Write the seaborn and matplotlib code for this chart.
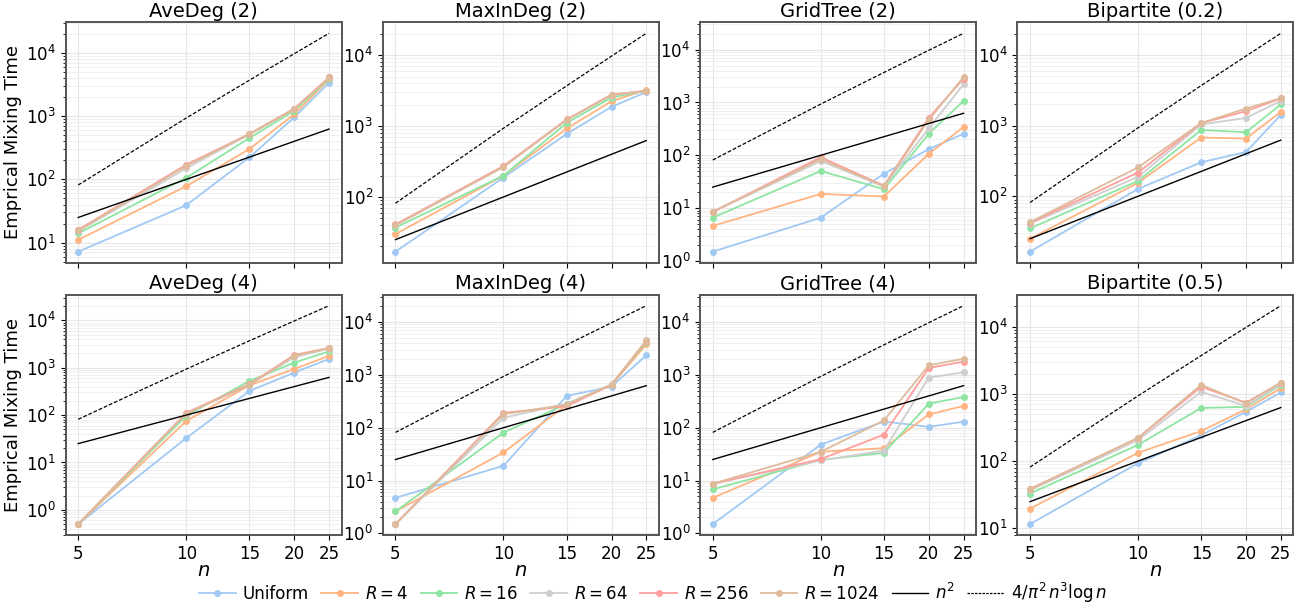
import numpy as np
import pandas as pd
import seaborn as sns
import matplotlib.pyplot as plt
from matplotlib.lines import Line2D
from matplotlib.ticker import FixedLocator, NullLocator, NullFormatter

# graph sizes
n_values = [5, 10, 15, 20, 25]
methods = ["Uniform", "$R=4$", "$R=16$", "$R=64$", "$R=256$", "$R=1024$"]
titles = ["AveDeg (2)", "MaxInDeg (2)", "GridTree (2)", "Bipartite (0.2)",
          "AveDeg (4)", "MaxInDeg (4)", "GridTree (4)", "Bipartite (0.5)"]

# mixing times, one row per method (Uniform, R=4, 16, 64, 256, 1024)
avedeg_2 = [
    [7.2, 39, 223, 957, 3370],
    [11.1, 78, 302, 1070, 3800],
    [14, 106, 451, 1217, 3890],
    [15.1, 150, 514, 1280, 4080],
    [16, 171, 525, 1320, 4080],
    [15.6, 164, 518, 1290, 4020],
]
maxindeg_2 = [
    [16.9, 188, 776, 1870, 3020],
    [30, 200, 925, 2240, 3250],
    [37, 200, 1110, 2530, 3150],
    [39.8, 265, 1230, 2700, 3150],
    [41, 274, 1240, 2790, 3150],
    [40, 266, 1225, 2750, 3110],
]
gridtree_2 = [
    [1.5, 6.6, 45, 131, 256],
    [4.6, 18.6, 16.6, 107, 342],
    [6.6, 50.6, 22.8, 256, 1070],
    [8.5, 78, 25.7, 324, 2210],
    [8.5, 92, 26.7, 512, 2830],
    [8.5, 85, 26, 470, 3030],
]
bipartite_02 = [
    [16.4, 127, 303, 425, 1420],
    [25, 155, 680, 657, 1570],
    [35, 165, 870, 810, 2000],
    [41, 188, 1040, 1290, 2240],
    [42, 217, 1085, 1610, 2430],
    [43, 257, 1090, 1750, 2450],
]
avedeg_4 = [
    [0.5, 32.8, 323, 787, 1535],
    [0.5, 75, 425, 943, 1780],
    [0.5, 97, 525, 1280, 2220],
    [0.5, 107, 445, 1660, 2540],
    [0.5, 112, 450, 1860, 2620],
    [0.5, 108, 430, 1790, 2580],
]
maxindeg_4 = [
    [4.7, 19, 400, 600, 2350],
    [2.6, 34, 270, 640, 3770],
    [2.6, 81, 282, 650, 4170],
    [1.5, 154, 285, 660, 4450],
    [1.5, 191, 255, 650, 4400],
    [1.5, 180, 275, 650, 4500],
]
gridtree_4 = [
    [1.5, 48, 131, 104, 130],
    [4.7, 35, 41, 178, 258],
    [6.8, 24.6, 33.4, 286, 381],
    [8.7, 24, 37, 890, 1120],
    [8.7, 25.4, 74, 1350, 1780],
    [8.7, 35, 137, 1520, 2020],
]
bipartite_05 = [
    [11.6, 93, 242, 540, 1050],
    [19.7, 133, 280, 590, 1210],
    [33, 174, 617, 640, 1350],
    [36.9, 205, 1070, 660, 1390],
    [38.7, 220, 1270, 740, 1460],
    [38, 222, 1360, 720, 1470],
]

panels = [avedeg_2, maxindeg_2, gridtree_2, bipartite_02,
          avedeg_4, maxindeg_4, gridtree_4, bipartite_05]

pastel = sns.color_palette("pastel")
colors = [pastel[0], pastel[1], pastel[2], pastel[7], pastel[3], pastel[5]]

plt.rcParams["font.family"] = ["DejaVu Sans"]
plt.rcParams["font.size"] = 12
plt.rcParams["mathtext.fontset"] = "dejavusans"

fig, axes = plt.subplots(2, 4, figsize=(13.06, 6.05), dpi=100, sharex=True)
fig.subplots_adjust(left=0.0503, right=0.9903, top=0.963, bottom=0.1157,
                    wspace=0.15, hspace=0.134)

n_arr = np.array(n_values, dtype=float)
ref_sq = n_arr ** 2
ref_cube = 4 / np.pi ** 2 * n_arr ** 3 * np.log(n_arr)

for i, ax in enumerate(axes.flat):
    rows = []
    for m, series in zip(methods, panels[i]):
        for n, t in zip(n_values, series):
            rows.append({"n": n, "time": t, "method": m})
    df = pd.DataFrame(rows)

    ax.grid(True, which="major", color="#e6e6e6", lw=0.8, zorder=0)
    ax.grid(True, which="minor", axis="y", color="#eeeeee", lw=0.6, zorder=0)

    sns.lineplot(data=df, x="n", y="time", hue="method", hue_order=methods,
                 palette=colors, marker="o", markersize=5, markeredgewidth=0,
                 lw=1.3, legend=False, ax=ax)
    ax.plot(n_arr, ref_sq, color="black", lw=1.0)
    ax.plot(n_arr, ref_cube, color="black", lw=0.9, ls=(0, (3, 1.5)))

    ax.set_xscale("log")
    ax.set_yscale("log")
    ax.xaxis.set_major_locator(FixedLocator(n_values))
    ax.xaxis.set_minor_locator(NullLocator())
    ax.xaxis.set_minor_formatter(NullFormatter())
    ax.set_xticklabels([str(v) for v in n_values])
    ax.set_title(titles[i], fontsize=14, pad=4)
    ax.tick_params(labelsize=12)
    for sp in ax.spines.values():
        sp.set_color("#555555")
        sp.set_linewidth(1.4)

    if i % 4 == 0:
        ax.set_ylabel("Emprical Mixing Time", fontsize=13)
        ax.yaxis.set_label_coords(-0.16, 0.5)
    else:
        ax.set_ylabel("")
    if i >= 4:
        ax.set_xlabel("$n$", fontsize=14, labelpad=-1)
    else:
        ax.set_xlabel("")

handles = [Line2D([], [], color=c, marker="o", markersize=5, markeredgewidth=0, lw=1.3)
           for c in colors]
handles.append(Line2D([], [], color="black", lw=1.0))
handles.append(Line2D([], [], color="black", lw=0.9, ls=(0, (2, 1))))
labels = methods + ["$n^2$", r"$4/\pi^2\, n^3 \log n$"]
fig.legend(handles, labels, loc="lower center", ncol=8, frameon=False,
           bbox_to_anchor=(0.5, -0.025), fontsize=12, handlelength=2.2,
           handletextpad=0.4, columnspacing=0.75)

plt.savefig("out.png", dpi=100)
